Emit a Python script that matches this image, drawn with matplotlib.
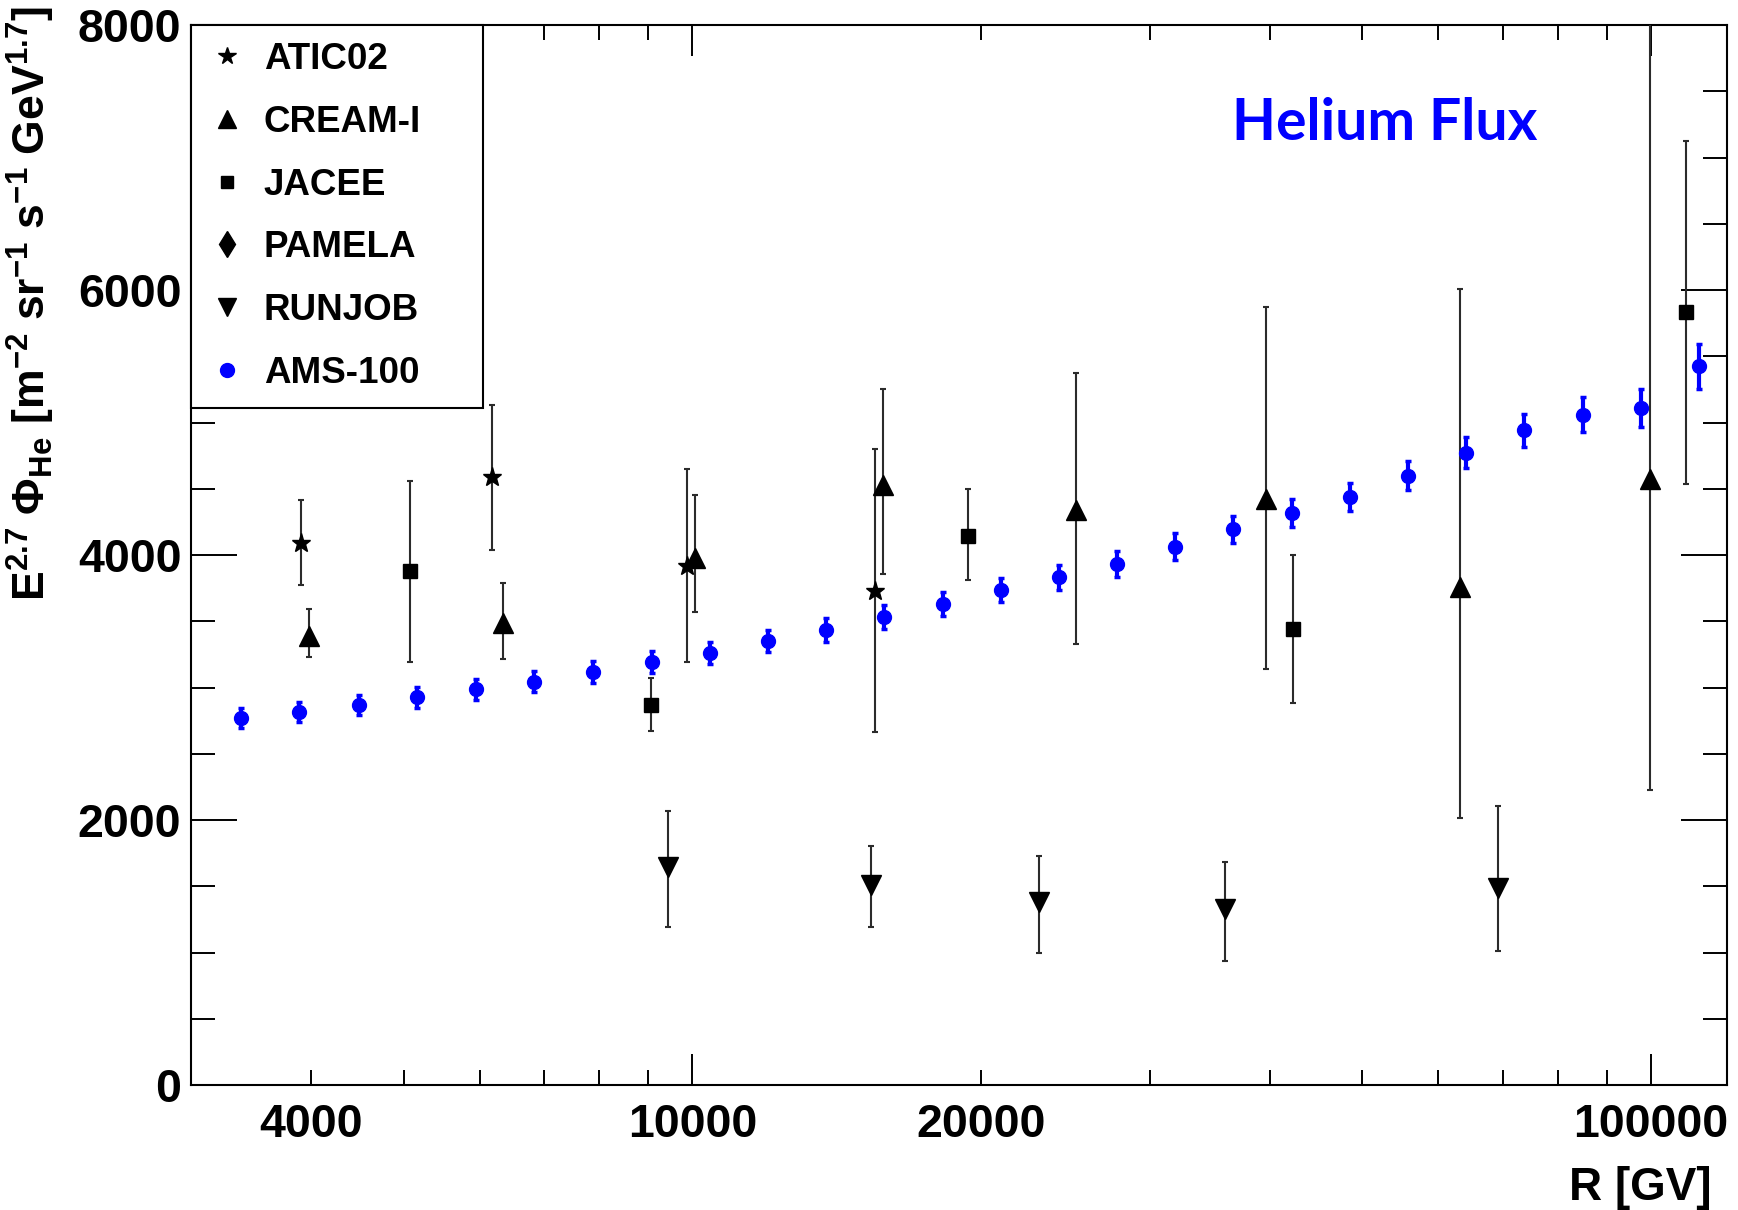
import matplotlib
matplotlib.use("Agg")
import matplotlib.pyplot as plt
from matplotlib.lines import Line2D
import numpy as np

plt.rcParams["font.family"] = ["Liberation Sans", "DejaVu Sans"]
plt.rcParams["font.weight"] = "bold"
plt.rcParams["axes.labelweight"] = "bold"
plt.rcParams["mathtext.fontset"] = "custom"
plt.rcParams["mathtext.rm"] = "Liberation Sans:bold"
plt.rcParams["mathtext.it"] = "Liberation Sans:bold"
plt.rcParams["mathtext.bf"] = "Liberation Sans:bold"
plt.rcParams["mathtext.default"] = "rm"

# ---- data (rigidity in GV, E^2.7 flux) ----
ams_R = [3384, 3890, 4487, 5157, 5953, 6838, 7870, 9075, 10424, 11990, 13790,
         15860, 18240, 20970, 24120, 27740, 31900, 36680, 42190, 48510, 55790,
         64160, 73780, 84850, 97580, 112200]
ams_flux = [2767, 2815, 2865, 2926, 2986, 3044, 3117, 3190, 3263, 3351, 3434,
            3530, 3628, 3736, 3832, 3930, 4063, 4194, 4315, 4440, 4600, 4772,
            4940, 5060, 5111, 5423]
ams_err = [75, 75, 76, 77, 78, 79, 80, 82, 83, 85, 87, 89, 91, 93, 95, 98,
           100, 103, 105, 106, 110, 116, 124, 130, 143, 172]

atic_R = [3903, 6174, 9862, 15510]
atic_flux = [4093, 4586, 3920, 3731]
atic_lo = [3774, 4038, 3195, 2662]
atic_hi = [4415, 5130, 4647, 4800]

cream_R = [3979, 6346, 10065, 15823, 25100, 39630, 63200, 99750]
cream_flux = [3389, 3489, 3975, 4528, 4340, 4420, 3755, 4570]
cream_lo = [3228, 3217, 3567, 3859, 3326, 3140, 2015, 2228]
cream_hi = [3592, 3786, 4453, 5250, 5371, 5869, 6010, 8600]

jacee_R = [5077, 9056, 19390, 42320, 108780]
jacee_flux = [3882, 2868, 4146, 3444, 5832]
jacee_lo = [3195, 2672, 3811, 2881, 4537]
jacee_hi = [4558, 3075, 4498, 4000, 7121]

runjob_R = [9434, 15350, 23000, 35930, 69180]
runjob_flux = [1643, 1509, 1379, 1328, 1484]
runjob_lo = [1195, 1195, 999, 936, 1014]
runjob_hi = [2070, 1804, 1731, 1686, 2108]

xtick_major = [10000, 100000]
xtick_minor = [4000, 5000, 6000, 7000, 8000, 9000,
               20000, 30000, 40000, 50000, 60000, 70000, 80000, 90000]
xtick_labeled_minor = [4000, 20000]
legend_labels = ["ATIC02", "CREAM-I", "JACEE", "PAMELA", "RUNJOB", "AMS-100"]

W, H = 1738, 1210
fig = plt.figure(figsize=(W / 100, H / 100), dpi=100)
ax = fig.add_axes([191 / W, 1 - 1085 / H, 1536 / W, 1060 / H])

err_kw = dict(ls="none", color="black", ecolor="#2b2b2b", elinewidth=1.5,
              capsize=2.5, capthick=1.5, zorder=3)


def asym(vals, lo, hi):
    vals, lo, hi = np.array(vals), np.array(lo), np.array(hi)
    return [vals - lo, hi - vals]


ax.errorbar(atic_R, atic_flux, yerr=asym(atic_flux, atic_lo, atic_hi),
            marker="*", ms=14, **err_kw)
ax.errorbar(cream_R, cream_flux, yerr=asym(cream_flux, cream_lo, cream_hi),
            marker="^", ms=14, **err_kw)
ax.errorbar(jacee_R, jacee_flux, yerr=asym(jacee_flux, jacee_lo, jacee_hi),
            marker="s", ms=10.5, **err_kw)
ax.errorbar(runjob_R, runjob_flux, yerr=asym(runjob_flux, runjob_lo, runjob_hi),
            marker="v", ms=14, **err_kw)
ax.errorbar(ams_R, ams_flux, yerr=ams_err, ls="none", marker="o", ms=10,
            color="#0000ff", ecolor="#0000ff", elinewidth=3, capsize=2.5,
            capthick=2.5, zorder=4)

ax.set_xscale("log")

# x ticks: ROOT style log axis with only a few labels
ax.set_xticks(xtick_major, labels=[str(v) for v in xtick_major])
ax.set_xticks(xtick_minor,
              labels=[str(v) if v in xtick_labeled_minor else "" for v in xtick_minor],
              minor=True)
ax.set_yticks([0, 2000, 4000, 6000, 8000])
ax.set_yticks(np.arange(0, 8001, 500), minor=True)
ax.set_xlim(3000, 120000)
ax.set_ylim(0, 8000)

ax.tick_params(axis="both", which="both", direction="in", top=True, right=True,
               width=1.4, labelsize=33.5)
ax.tick_params(axis="y", which="major", length=33, pad=7)
ax.tick_params(axis="y", which="minor", length=17)
ax.tick_params(axis="x", which="major", length=22, pad=13)
ax.tick_params(axis="x", which="minor", length=11, pad=13)
for s in ax.spines.values():
    s.set_linewidth(1.5)

ax.set_ylabel(r"E$^{2.7}$ Φ$_{He}$ [m$^{-2}$ sr$^{-1}$ s$^{-1}$ GeV$^{1.7}$]",
              fontsize=32, loc="top")
ax.yaxis.set_label_coords(-0.087, 1.018)
ax.set_xlabel("R [GV]", fontsize=33, loc="right")
ax.xaxis.set_label_coords(0.99, -0.076)

ax.text(0.7773, 0.8915, "Helium Flux", transform=ax.transAxes, ha="center",
        va="baseline", color="#0000ff", fontsize=41, fontweight="bold",
        family="Lato")

handles = [
    Line2D([], [], ls="none", marker="*", ms=13, color="black"),
    Line2D([], [], ls="none", marker="^", ms=13, color="black"),
    Line2D([], [], ls="none", marker="s", ms=9, color="black"),
    Line2D([], [], ls="none", marker="d", ms=13, color="black"),
    Line2D([], [], ls="none", marker="v", ms=13, color="black"),
    Line2D([], [], ls="none", marker="o", ms=10, color="#0000ff"),
]
leg = ax.legend(handles, legend_labels, loc="upper left",
                bbox_to_anchor=(0, 0, 292 / 1536, 1), mode="expand",
                borderaxespad=0, fontsize=26.5, labelspacing=0.755,
                handlelength=1.04, handletextpad=0.48, borderpad=0.46,
                fancybox=False, framealpha=1, edgecolor="black")
leg.get_frame().set_linewidth(1.5)

fig.savefig("out.png", dpi=100)
